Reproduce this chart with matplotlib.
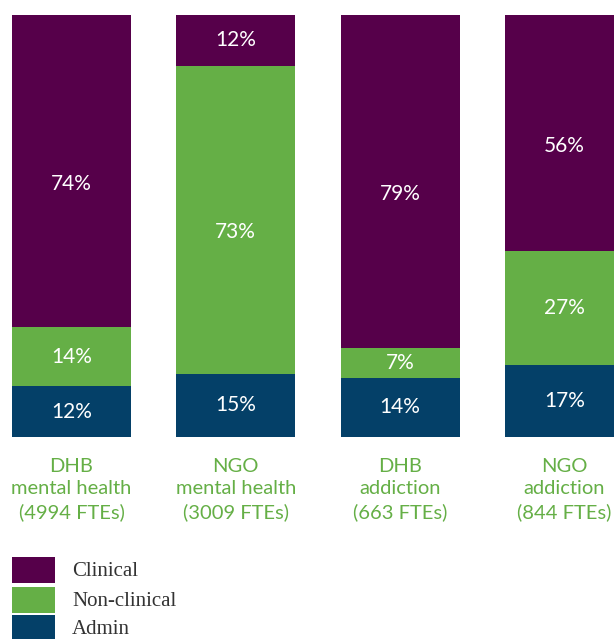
import numpy as np
import matplotlib.pyplot as plt
from matplotlib.patches import Rectangle

categories = ['DHB\nmental health\n(4994 FTEs)', 'NGO\nmental health\n(3009 FTEs)',
              'DHB\naddiction\n(663 FTEs)', 'NGO\naddiction\n(844 FTEs)']
admin = [12, 15, 14, 17]
non_clinical = [14, 73, 7, 27]
clinical = [74, 12, 79, 56]

series = [('Admin', admin, '#044068'),
          ('Non-clinical', non_clinical, '#65af46'),
          ('Clinical', clinical, '#56004a')]

W, H = 614, 639
fig = plt.figure(figsize=(W / 100, H / 100), dpi=100)
ax = fig.add_axes([0, (H - 437) / H, 1, 422 / H])

x = np.arange(len(categories))
pitch = 164.3
width = 119 / pitch
bottom = np.zeros(len(categories))
for name, vals, col in series:
    vals = np.array(vals, dtype=float)
    ax.bar(x, vals, width, bottom=bottom, color=col, linewidth=0)
    for xi, b, v in zip(x, bottom, vals):
        # big segments have their label a little below the middle
        yl = b + v / 2 - (3 if v > 50 else 0)
        ax.text(xi, yl, '%d%%' % v, ha='center', va='center',
                color='white', fontsize=15, family='Lato')
    bottom += vals

ax.set_xlim(-71.5 / pitch, (W - 71.5) / pitch)
ax.set_ylim(0, 100)
ax.axis('off')

# category labels under the bars
for xi, lab in zip(x, categories):
    ax.annotate(lab, (xi, 0), xytext=(0, -15), textcoords='offset points',
                ha='center', va='top', color='#65af46', fontsize=14.5,
                family='Lato', linespacing=1.38)

# legend
leg_items = [('Clinical', '#56004a'), ('Non-clinical', '#65af46'), ('Admin', '#044068')]
ys = [557, 587, 615]
for (name, col), y0 in zip(leg_items, ys):
    fig.patches.append(Rectangle((12 / W, 1 - (y0 + 26) / H), 43 / W, 26 / H,
                                 transform=fig.transFigure, color=col, lw=0))
    fig.text(72 / W, 1 - (y0 + 14) / H, name, ha='left', va='center',
             color='#333333', fontsize=15, family='Liberation Serif')

fig.savefig('out.png', dpi=100)
